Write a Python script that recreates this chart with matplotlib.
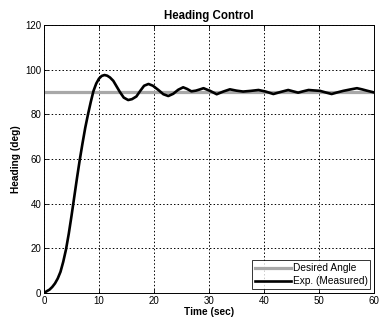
import matplotlib
matplotlib.use("Agg")
import matplotlib.pyplot as plt

plt.rcParams['font.family'] = ['Liberation Sans', 'DejaVu Sans']

# data
t_meas = [0, 0.5, 1.0, 1.5, 2.0, 2.5, 3.0, 3.5, 4.0, 4.5, 5.0, 5.5, 6.0, 6.5, 7.0, 7.5,
          8.0, 8.5, 9.0, 9.5, 10.0, 10.5, 11.0, 11.5, 12.0, 12.6, 13.2, 13.8, 14.5,
          15.3, 16.0, 16.8, 17.5, 18.2, 19.0, 19.8, 20.8, 21.7, 22.6, 23.5, 24.4,
          25.3, 26.0, 26.8, 27.6, 28.4, 29.0, 30.2, 31.4, 32.6, 33.8, 35.0, 36.2,
          37.6, 39.0, 40.3, 41.7, 43.0, 44.4, 45.3, 46.2, 47.1, 48.1, 49.1, 50.2,
          51.2, 52.3, 53.3, 54.4, 55.6, 56.9, 57.8, 58.7, 60.0]
h_meas = [0, 0.8, 1.5, 2.7, 4.3, 6.5, 9.5, 14.0, 19.5, 26.5, 34.5, 43.0, 51.5, 59.6, 67.0, 74.0,
          80.0, 85.5, 90.5, 93.8, 96.0, 97.2, 97.6, 97.3, 96.5, 95.0, 92.5, 90.0, 87.5,
          86.4, 86.8, 88.0, 90.5, 92.8, 93.6, 92.8, 90.9, 89.0, 88.2, 89.2, 91.0,
          92.1, 91.4, 90.3, 90.6, 91.2, 91.7, 90.5, 89.0, 90.2, 91.2, 90.6, 90.2,
          90.5, 90.9, 90.2, 89.1, 90.0, 90.9, 90.3, 89.7, 90.3, 90.9, 90.7, 90.5,
          89.8, 89.1, 89.8, 90.5, 91.1, 91.7, 91.2, 90.6, 89.8]
t_des = [0, 60]
h_des = [90, 90]

xticks = [0, 10, 20, 30, 40, 50, 60]
yticks = [0, 20, 40, 60, 80, 100, 120]

fig = plt.figure(figsize=(3.83, 3.21), dpi=100)
ax = fig.add_axes([44/383, 1-293/321, 330/383, 268/321])

ax.plot(t_des, h_des, color='#a8a8a8', lw=2.3, label='Desired Angle')
ax.plot(t_meas, h_meas, color='black', lw=1.9, label='Exp. (Measured)',
        solid_joinstyle='round')

ax.set_xlim(0, 60)
ax.set_ylim(0, 120)
ax.set_xticks(xticks)
ax.set_yticks(yticks)
ax.tick_params(direction='in', labelsize=7, length=3, width=0.6, top=True, right=True, pad=2)
ax.grid(True, color='black', ls=(0, (1.5, 2.2)), lw=0.7)
for s in ax.spines.values():
    s.set_linewidth(0.7)

ax.set_title('Heading Control', fontsize=8.3, fontweight='bold', pad=4)
ax.set_xlabel('Time (sec)', fontsize=7.3, fontweight='bold', labelpad=1)
ax.set_ylabel('Heading (deg)', fontsize=7.3, fontweight='bold', labelpad=3)

leg = ax.legend(loc='lower right', fontsize=7.3, frameon=True, fancybox=False,
                edgecolor='black', borderaxespad=0.35, handlelength=3.5,
                handletextpad=0.2, borderpad=0.3, labelspacing=0.3)
leg.get_frame().set_linewidth(0.7)

fig.savefig('out.png', dpi=100)
